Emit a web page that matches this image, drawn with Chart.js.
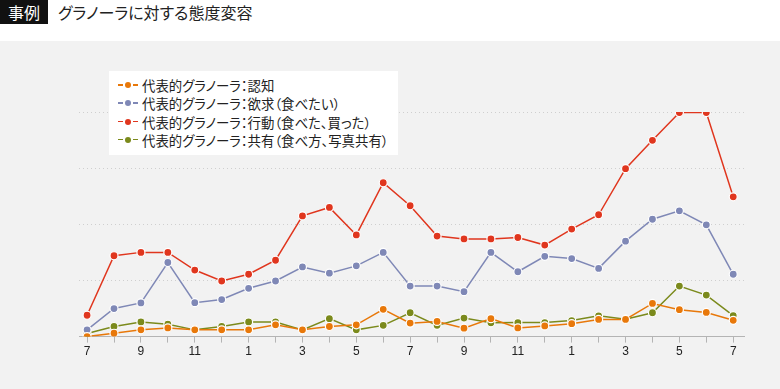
<!DOCTYPE html>
<html lang="ja">
<head>
<meta charset="utf-8">
<script src="https://cdn.jsdelivr.net/npm/chart.js@4/dist/chart.umd.min.js"></script>
<style>
  html, body { margin: 0; padding: 0; background: #fff; }
  body { width: 780px; height: 389px; position: relative; overflow: hidden; font-family: "Noto Sans CJK JP", "Liberation Sans", sans-serif; font-feature-settings: "palt"; }
  .tag { position: absolute; left: 0; top: 0; width: 48px; height: 24px; background: #111; color: #fff; font-size: 16px; line-height: 24px; text-align: center; }
  .title { position: absolute; left: 58px; top: 0; font-size: 16px; line-height: 24px; color: #222; }
  .plot { position: absolute; left: 0; top: 41px; width: 780px; height: 348px; background: #f2f2f2; }
  .legend { position: absolute; left: 109px; top: 71px; width: 289px; height: 84px; background: #fff; box-sizing: border-box; padding-top: 5px; }
  .legend .row { height: 18.3px; line-height: 18.3px; font-size: 13.4px; color: #222; white-space: nowrap; position: relative; padding-left: 33px; }
  .legend .mark { position: absolute; left: 9px; top: 9px; width: 20px; height: 0; }
  .legend .mark::before { content: ''; position: absolute; left: 0; top: -1px; width: 20px; height: 1.5px; background: linear-gradient(to right, var(--c) 0 5px, transparent 5px 15px, var(--c) 15px 20px); }
  .legend .mark::after { content: ''; position: absolute; left: 7px; top: -3px; width: 6px; height: 6px; border-radius: 50%; background: var(--c); }
</style>
</head>
<body>
<div class="tag">事例</div>
<div class="title">グラノーラに対する態度変容</div>
<div class="plot"><canvas id="chart" width="780" height="348"></canvas></div>
<div class="legend" id="legend"></div>
<script>
const months = ['7', '8', '9', '10', '11', '12', '1', '2', '3', '4', '5', '6', '7',
  '8', '9', '10', '11', '12', '1', '2', '3', '4', '5', '6', '7'];

const seriesNames = [
  '代表的グラノーラ：認知',
  '代表的グラノーラ：欲求（食べたい）',
  '代表的グラノーラ：行動（食べた、買った）',
  '代表的グラノーラ：共有（食べ方、写真共有）',
];

const seriesColors = ['#e8780a', '#7f88b6', '#e0361e', '#7b8a1c'];

const awareness = [0, 0.6, 1.2, 1.55, 1.2, 1.2, 1.2, 2.1, 1.2, 1.8, 2.1, 4.85, 2.4,
  2.7, 1.5, 3.2, 1.55, 1.9, 2.3, 3.05, 3.05, 5.9, 4.8, 4.3, 2.9];
const desire = [1.2, 5.0, 6.0, 13.2, 6.05, 6.6, 8.6, 9.9, 12.4, 11.3, 12.6, 15.0, 9.0,
  9.0, 8.0, 15.0, 11.55, 14.3, 13.9, 12.15, 17.0, 20.9, 22.4, 19.9, 11.1];
const action = [3.8, 14.4, 15.0, 15.0, 11.85, 9.9, 11.1, 13.6, 21.5, 23.0, 18.1, 27.4, 23.3,
  17.9, 17.4, 17.4, 17.65, 16.3, 19.15, 21.7, 29.9, 34.95, 39.9, 39.9, 24.9];
const sharing = [0.55, 1.8, 2.6, 2.2, 1.2, 1.8, 2.6, 2.6, 1.2, 3.2, 1.2, 2.0, 4.25,
  2.0, 3.3, 2.45, 2.5, 2.5, 2.85, 3.7, 3.1, 4.25, 9.0, 7.4, 3.75];

const yMax = 40;
const yStep = 10;

const allSeries = [awareness, desire, action, sharing];

const legendEl = document.getElementById('legend');
seriesNames.forEach((name, i) => {
  const row = document.createElement('div');
  row.className = 'row';
  row.innerHTML = `<span class="mark" style="--c:${seriesColors[i]}"></span>${name}`;
  legendEl.appendChild(row);
});

const datasets = allSeries.map((values, i) => ({
  label: seriesNames[i],
  data: values.map((v, idx) => ({ x: idx, y: v })),
  borderColor: seriesColors[i],
  backgroundColor: seriesColors[i],
  pointBackgroundColor: seriesColors[i],
  pointBorderColor: '#ffffff',
  pointBorderWidth: 1.2,
  pointRadius: 4,
  borderWidth: 1.5,
  tension: 0,
}));

new Chart(document.getElementById('chart'), {
  type: 'line',
  data: { datasets },
  options: {
    responsive: false,
    animation: false,
    layout: { padding: { left: 79, right: 36, top: 71, bottom: 28 } },
    plugins: { legend: { display: false }, tooltip: { enabled: false } },
    scales: {
      x: {
        type: 'linear',
        min: -0.3,
        max: months.length - 1 + 0.4,
        afterBuildTicks: (scale) => {
          scale.ticks = months.map((_, idx) => ({ value: idx }));
        },
        ticks: {
          autoSkip: false,
          maxRotation: 0,
          padding: 2,
          color: '#222',
          font: { family: 'Liberation Sans', size: 12 },
          callback: (val) => (val % 2 === 0 ? months[val] : ''),
        },
        grid: { drawOnChartArea: false, drawTicks: true, tickLength: 6, color: '#b4b4b4' },
        border: { display: true, color: '#b4b4b4', width: 1 },
      },
      y: {
        min: 0,
        max: yMax,
        ticks: { display: false, stepSize: yStep },
        grid: {
          color: (ctx) => (ctx.tick.value === 0 ? 'rgba(0,0,0,0)' : '#cfcfcf'),
          drawTicks: false,
        },
        border: { display: false, dash: [1, 3] },
      },
    },
  },
});
</script>
</body>
</html>
